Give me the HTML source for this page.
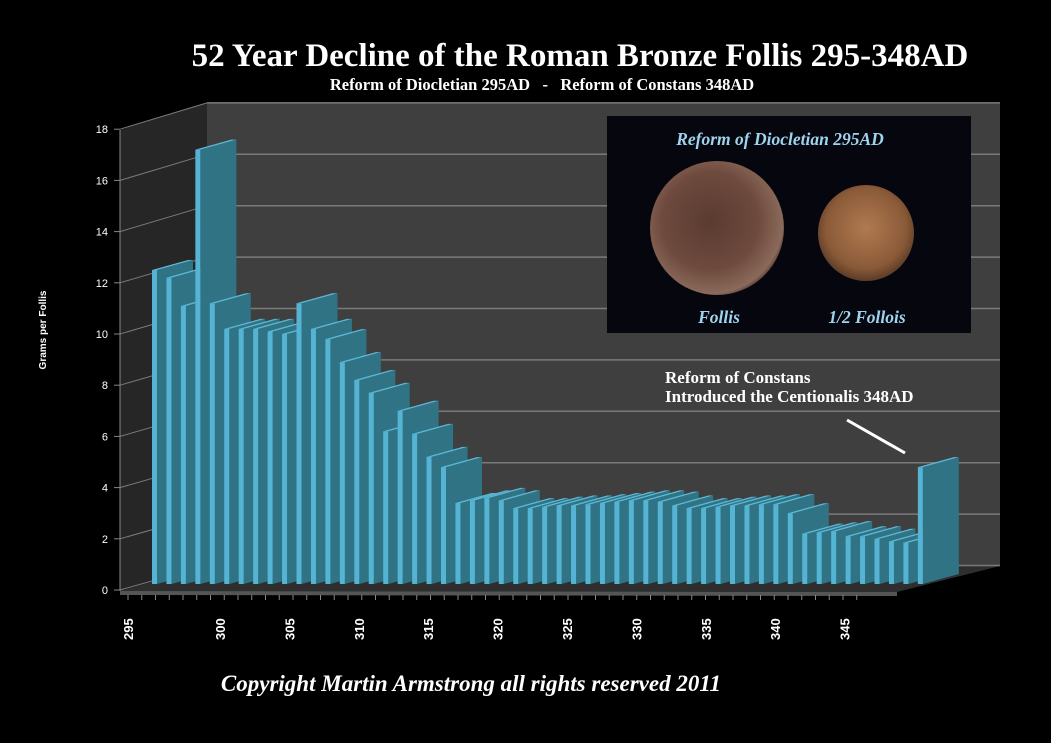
<!DOCTYPE html>
<html><head><meta charset="utf-8"><style>
html,body{margin:0;padding:0;background:#000;}
body{width:1051px;height:743px;overflow:hidden;position:relative;font-family:"Liberation Serif",serif;}
</style></head><body>
<svg width="1051" height="743" viewBox="0 0 1051 743" style="position:absolute;left:0;top:0">
<defs>
<radialGradient id="coin1" cx="45%" cy="45%" r="60%"><stop offset="0" stop-color="#5a3a30"/><stop offset="0.6" stop-color="#6e4a3e"/><stop offset="0.9" stop-color="#8a6a5a"/><stop offset="1" stop-color="#3a2420"/></radialGradient>
<radialGradient id="coin2" cx="50%" cy="45%" r="60%"><stop offset="0" stop-color="#b07a50"/><stop offset="0.7" stop-color="#8a5a38"/><stop offset="1" stop-color="#4a3020"/></radialGradient>
</defs>
<text x="580" y="66" text-anchor="middle" fill="#fff" font-size="33" font-weight="bold">52 Year Decline of the Roman Bronze Follis 295-348AD</text>
<text x="542" y="90" text-anchor="middle" fill="#fff" font-size="16.5" font-weight="bold" xml:space="preserve">Reform of Diocletian 295AD   -   Reform of Constans 348AD</text>
<g id="walls"></g>
<g id="grid"></g>
<g id="bars"></g>
<g id="axes"></g>
<text transform="translate(46,330) rotate(-90)" text-anchor="middle" fill="#fff" font-family="Liberation Sans,sans-serif" font-size="10" font-weight="bold">Grams per Follis</text>
<g>
<rect x="607" y="116" width="364" height="217" fill="#06060e"/>
<text x="780" y="145" text-anchor="middle" fill="#9fd4ee" font-size="17.5" font-style="italic" font-weight="bold">Reform of Diocletian 295AD</text>
<circle cx="717" cy="228" r="67" fill="url(#coin1)"/>
<circle cx="866" cy="233" r="48" fill="url(#coin2)"/>
<text x="719" y="323" text-anchor="middle" fill="#9fd4ee" font-size="17.5" font-style="italic" font-weight="bold">Follis</text>
<text x="867" y="323" text-anchor="middle" fill="#9fd4ee" font-size="17.5" font-style="italic" font-weight="bold">1/2 Follois</text>
</g>
<text x="665" y="383" fill="#fff" font-size="17" font-weight="bold">Reform of Constans</text>
<text x="665" y="402" fill="#fff" font-size="17" font-weight="bold">Introduced the Centionalis 348AD</text>
<line x1="847" y1="420" x2="905" y2="453" stroke="#fff" stroke-width="3"/>
<text x="471" y="691" text-anchor="middle" fill="#fff" font-size="23" font-style="italic" font-weight="bold">Copyright Martin Armstrong all rights reserved 2011</text>
</svg>
<script>
const years = [];
for (let y = 295; y <= 348; y++) years.push(y);
const grams = [12.5,12.2,11.1,17.2,11.2,10.2,10.2,10.2,10.1,10.0,11.2,10.2,9.8,8.9,8.2,7.7,6.2,7.0,6.1,5.2,4.8,
 3.4,3.5,3.6,3.5,3.2,3.2,3.25,3.3,3.3,3.35,3.4,3.45,3.5,3.5,3.45,3.3,3.2,3.2,3.25,3.3,3.3,3.35,3.35,3.0,
 2.2,2.25,2.3,2.1,2.1,2.0,1.9,1.85,4.8];
const yTicks = [0,2,4,6,8,10,12,14,16,18];
const xTickLabels = [295,300,305,310,315,320,325,330,335,340,345];

const NS='http://www.w3.org/2000/svg';
function mk(tag, attrs, parent){const e=document.createElementNS(NS,tag);for(const k in attrs)e.setAttribute(k,attrs[k]);parent.appendChild(e);return e;}
const yF = v => 590 - v*25.6;
const yB = v => 565.5 - v*25.7;
const xFront = i => 152 + i*14.45;
const xTick = yr => 128 + (yr-295)*13.75;
const xLabel = yr => yr===295 ? 128 : 220 + (yr-300)*13.88;

const walls=document.getElementById('walls');
let p=mk('polygon',{points:'120,130 207,103 207,566 120,591',fill:'#262626'},walls);


p=mk('rect',{x:207,y:103,width:793,height:463,fill:'#3f3f3f'},walls);


p=mk('polygon',{points:'120,591 207,566 1000,566 897,592',fill:'#2e2e2e'},walls);


p=mk('polygon',{points:'120,591 897,592 897,596 120,595',fill:'#555'},walls);



const grid=document.getElementById('grid');
const axes=document.getElementById('axes');
yTicks.forEach(v=>{
  let l=mk('line',{x1:207,y1:yB(v),x2:1000,y2:yB(v),stroke:'#7a7a7a','stroke-width':1.5},grid);
  
  
  l=mk('line',{x1:120,y1:yF(v),x2:207,y2:yB(v),stroke:'#7a7a7a','stroke-width':1},grid);
  
  
  const t=mk('text',{x:108,y:yF(v)+4,'text-anchor':'end',fill:'#fff','font-family':'Liberation Sans,sans-serif','font-size':11},axes);
  t.textContent=v;
  
  
  l=mk('line',{x1:114,y1:yF(v),x2:120,y2:yF(v),stroke:'#888'},axes);
  
  
});
let ax=mk('line',{x1:120,y1:130,x2:120,y2:591,stroke:'#888'},axes);



const bars=document.getElementById('bars');
const DX=36, DY=10, FW=5, base=584;
grams.forEach((v,i)=>{
  const x=xFront(i), top=yF(v);
  const g=mk('g',{},bars);
  
  
  mk('polygon',{points:`${x+FW},${top} ${x+FW+DX},${top-DY} ${x+FW+DX},${base-DY} ${x+FW},${base}`,fill:'#2f7385'},g);
  mk('polygon',{points:`${x},${top} ${x+DX},${top-DY} ${x+FW+DX},${top-DY} ${x+FW},${top}`,fill:'#5cb8d6'},g);
  mk('rect',{x:x,y:top,width:FW,height:base-top,fill:'#55b4d4'},g);
});
for(let yr=295; yr<=348; yr++){
  const x=xTick(yr);
  const l=mk('line',{x1:x,y1:595,x2:x,y2:600,stroke:'#888'},axes);
  
  
}
xTickLabels.forEach(yr=>{
  const x=xLabel(yr);
  const t=mk('text',{transform:`translate(${x+5},640) rotate(-90)`,fill:'#fff','font-family':'Liberation Sans,sans-serif','font-size':13,'font-weight':'bold'},axes);
  t.textContent=yr;
  
  
});
</script>
</body></html>
